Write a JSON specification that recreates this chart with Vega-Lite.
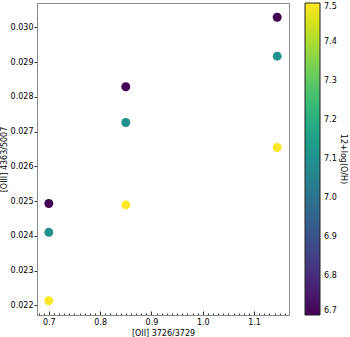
{
  "$schema": "https://vega.github.io/schema/vega-lite/v6.json",
  "width": 252,
  "height": 312,
  "autosize": {"type": "none"},
  "padding": {"left": 37, "top": 3, "right": 61, "bottom": 22},
  "config": {
    "font": "DejaVu Sans",
    "view": {"stroke": "#888888", "strokeWidth": 1},
    "axis": {"domainColor": "#888888", "tickColor": "#333333", "labelColor": "black", "titleColor": "black", "labelFontSize": 8, "titleFontSize": 8, "titleFontWeight": "normal", "grid": false, "labelFont": "DejaVu Sans", "titleFont": "DejaVu Sans", "labelOverlap": false}
  },
  "data": {
    "values": [
      {"ratio_oii": 0.70, "ratio_oiii": 0.02493, "oh": 6.7},
      {"ratio_oii": 0.70, "ratio_oiii": 0.02410, "oh": 7.1},
      {"ratio_oii": 0.70, "ratio_oiii": 0.02213, "oh": 7.5},
      {"ratio_oii": 0.85, "ratio_oiii": 0.02829, "oh": 6.7},
      {"ratio_oii": 0.85, "ratio_oiii": 0.02726, "oh": 7.1},
      {"ratio_oii": 0.85, "ratio_oiii": 0.02489, "oh": 7.5},
      {"ratio_oii": 1.145, "ratio_oiii": 0.03029, "oh": 6.7},
      {"ratio_oii": 1.145, "ratio_oiii": 0.02917, "oh": 7.1},
      {"ratio_oii": 1.145, "ratio_oiii": 0.02654, "oh": 7.5}
    ]
  },
  "mark": {"type": "point", "filled": true, "opacity": 1, "size": 80},
  "encoding": {
    "x": {"field": "ratio_oii", "type": "quantitative", "scale": {"domain": [0.677, 1.168], "nice": false, "zero": false},
      "axis": {"orient": "bottom", "title": "[OII] 3726/3729",
        "values": [0.68,0.69,0.7,0.71,0.72,0.73,0.74,0.75,0.76,0.77,0.78,0.79,0.8,0.81,0.82,0.83,0.84,0.85,0.86,0.87,0.88,0.89,0.9,0.91,0.92,0.93,0.94,0.95,0.96,0.97,0.98,0.99,1.0,1.01,1.02,1.03,1.04,1.05,1.06,1.07,1.08,1.09,1.1,1.11,1.12,1.13,1.14,1.15,1.16],
        "labelExpr": "abs(datum.value*10 - round(datum.value*10)) < 0.001 ? format(datum.value, '.1f') : ''",
        "tickSize": {"condition": {"test": "abs(datum.value*10 - round(datum.value*10)) < 0.001", "value": -4}, "value": -2},
        "labelPadding": 7, "titleY": 20, "titleBaseline": "alphabetic"}},
    "y": {"field": "ratio_oiii", "type": "quantitative", "scale": {"domain": [0.02172, 0.0307], "nice": false, "zero": false},
      "axis": {"title": "[OIII] 4363/5007", "values": [0.022, 0.023, 0.024, 0.025, 0.026, 0.027, 0.028, 0.029, 0.030], "format": ".3f", "tickSize": 3, "labelPadding": 1, "titlePadding": 2}},
    "color": {"field": "oh", "type": "quantitative", "scale": {"scheme": "viridis", "domain": [6.7, 7.5]},
      "legend": {"title": "12+log(O/H)", "orient": "none", "legendX": 268, "legendY": 0, "direction": "vertical", "gradientLength": 312, "gradientThickness": 15, "gradientStrokeColor": "#222222", "gradientStrokeWidth": 1, "values": [6.7, 6.8, 6.9, 7.0, 7.1, 7.2, 7.3, 7.4, 7.5], "format": ".1f", "labelFontSize": 8, "labelColor": "black", "labelOffset": 4, "labelOverlap": false, "titleOrient": "right", "titleAngle": 270, "titleAnchor": "middle", "titleFontSize": 8, "titleFontWeight": "normal", "titleColor": "black", "titlePadding": 2}}
  }
}
